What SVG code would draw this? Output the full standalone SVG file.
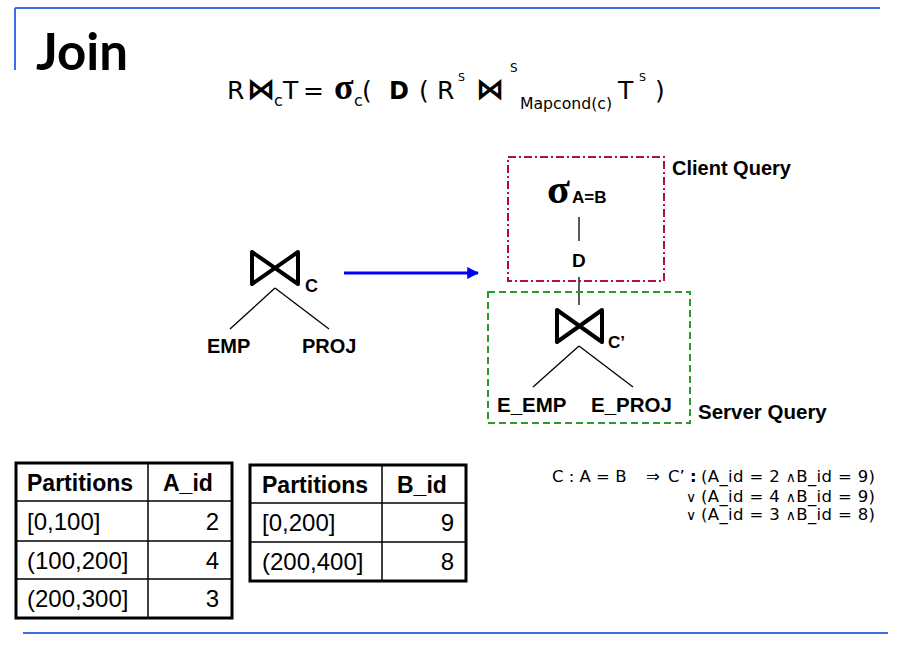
<svg xmlns="http://www.w3.org/2000/svg" width="900" height="648" viewBox="0 0 900 648">
<defs>
<style>
.rule{stroke:#3f6fe6;stroke-width:2;fill:none}
.f{font-family:"DejaVu Sans","Liberation Sans",sans-serif;fill:#000}
.a{font-family:"Liberation Sans",Arial,sans-serif;fill:#000}
.b{font-weight:bold}
.sig{font-family:"Liberation Serif","Times New Roman",serif;font-weight:bold;fill:#000}
.edge{stroke:#000;stroke-width:1.3;fill:none}
.bow{stroke:#000;stroke-width:4;fill:none;stroke-linejoin:round;stroke-linecap:round}
.tout{stroke:#000;stroke-width:3;fill:none}
.tin{stroke:#000;stroke-width:1.5}
</style>
<marker id="ah" viewBox="0 0 10 10" refX="9" refY="5" markerWidth="4" markerHeight="4" orient="auto" markerUnits="strokeWidth">
<path d="M0,0 L10,5 L0,10 Z" fill="#0000ff"/>
</marker>
</defs>
<rect width="900" height="648" fill="#fff"/>

<g id="frame">
<line class="rule" x1="15" y1="8" x2="880" y2="8"/>
<line class="rule" x1="15" y1="8" x2="15" y2="70"/>
<line class="rule" x1="23" y1="633" x2="888" y2="633"/>
</g>

<g id="title">
<text x="36" y="70" font-family="Lato,'Open Sans',sans-serif" font-size="51" font-weight="bold">Join</text>
</g>

<g id="formula" class="f" font-size="25">
<text x="227" y="99">R</text>
<text transform="translate(247,99) scale(1.05,1.1)" font-size="27" font-weight="bold">⋈</text>
<text x="274" y="106" font-size="16">c</text>
<text x="283" y="99">T</text>
<text x="303" y="99">=</text>
<text class="sig" x="334" y="99" font-size="36">σ</text>
<text x="354" y="106" font-size="16">c</text>
<text x="362" y="99">(</text>
<text x="389" y="99" font-weight="bold" font-size="24">D</text>
<text x="419" y="99">(</text>
<text x="437" y="99">R</text>
<text x="458" y="81" font-size="11">S</text>
<text transform="translate(476,99) scale(1.05,1.1)" font-size="27" font-weight="bold">⋈</text>
<text x="510" y="72" font-size="12">S</text>
<text x="520" y="109" font-size="16" textLength="92" lengthAdjust="spacingAndGlyphs">Mapcond(c)</text>
<text x="618" y="99">T</text>
<text x="639" y="81" font-size="11">S</text>
<text x="655" y="99">)</text>
</g>

<g id="connectors">
<line class="edge" x1="275" y1="288" x2="230" y2="329"/>
<line class="edge" x1="275" y1="288" x2="329" y2="329"/>
<line x1="344" y1="273" x2="478" y2="273" stroke="#0000ff" stroke-width="3" marker-end="url(#ah)"/>
<line class="edge" x1="579" y1="217" x2="579" y2="241"/>
<line class="edge" x1="579" y1="277" x2="579" y2="305"/>
<line class="edge" x1="579" y1="346" x2="533" y2="387"/>
<line class="edge" x1="579" y1="346" x2="633" y2="387"/>
</g>

<g id="join-c">
<path class="bow" d="M252,252 L298,284 L298,252 L252,284 Z"/>
<text class="a b" x="305" y="292" font-size="18">C</text>
</g>
<g id="emp"><text class="a b" x="207" y="353" font-size="20">EMP</text></g>
<g id="proj"><text class="a b" x="302" y="353" font-size="20">PROJ</text></g>

<g id="client-query">
<rect x="508" y="157" width="156" height="124" fill="none" stroke="#b01040" stroke-width="2" stroke-dasharray="8,3,2,3"/>
<text class="a b" x="672" y="175" font-size="20">Client Query</text>
</g>
<g id="sigma">
<text class="sig" x="547" y="203" font-size="42">σ</text>
<text class="a b" x="572" y="203" font-size="17">A=B</text>
</g>
<g id="d-node"><text class="a b" x="572" y="267" font-size="19">D</text></g>

<g id="server-query">
<rect x="488" y="292" width="202" height="131" fill="none" stroke="#2a9a2a" stroke-width="2" stroke-dasharray="7,4"/>
<text class="a b" x="698" y="419" font-size="20.5">Server Query</text>
</g>
<g id="join-c2">
<path class="bow" d="M557,310 L602,342 L602,310 L557,342 Z"/>
<text class="a b" x="608" y="348" font-size="17">C’</text>
</g>
<g id="e-emp"><text class="a b" x="497" y="412" font-size="20.5">E_EMP</text></g>
<g id="e-proj"><text class="a b" x="591" y="412" font-size="20.5">E_PROJ</text></g>

<g id="table-a" class="a" font-size="24">
<rect class="tout" x="16" y="463" width="216" height="155"/>
<line class="tin" x1="148" y1="463" x2="148" y2="618"/>
<line class="tin" x1="16" y1="501" x2="232" y2="501"/>
<line class="tin" x1="16" y1="541" x2="232" y2="541"/>
<line class="tin" x1="16" y1="579" x2="232" y2="579"/>
<text class="b" x="27" y="491" font-size="23">Partitions</text>
<text class="b" x="163" y="491" font-size="23">A_id</text>
<text x="27" y="530">[0,100]</text>
<text x="27" y="569">(100,200]</text>
<text x="27" y="607">(200,300]</text>
<text x="219" y="530" text-anchor="end">2</text>
<text x="219" y="569" text-anchor="end">4</text>
<text x="219" y="607" text-anchor="end">3</text>
</g>

<g id="table-b" class="a" font-size="24">
<rect class="tout" x="250" y="465" width="216" height="116"/>
<line class="tin" x1="382" y1="465" x2="382" y2="581"/>
<line class="tin" x1="250" y1="503" x2="466" y2="503"/>
<line class="tin" x1="250" y1="542" x2="466" y2="542"/>
<text class="b" x="262" y="493" font-size="23">Partitions</text>
<text class="b" x="397" y="493" font-size="23">B_id</text>
<text x="262" y="531">[0,200]</text>
<text x="262" y="570">(200,400]</text>
<text x="454" y="531" text-anchor="end">9</text>
<text x="454" y="570" text-anchor="end">8</text>
</g>

<g id="condition" class="f" font-size="16.5">
<text x="552" y="482">C : A = B</text>
<text x="646" y="482">⇒</text>
<text x="668" y="482">C’</text>
<text x="690" y="482" font-weight="bold">:</text>
<text x="701" y="482" textLength="174" lengthAdjust="spacing">(A_id = 2 <tspan font-size="14">∧</tspan>B_id = 9)</text>
<text x="686" y="502" font-size="14">∨</text>
<text x="701" y="502" textLength="174" lengthAdjust="spacing">(A_id = 4 <tspan font-size="14">∧</tspan>B_id = 9)</text>
<text x="686" y="520" font-size="14">∨</text>
<text x="701" y="520" textLength="174" lengthAdjust="spacing">(A_id = 3 <tspan font-size="14">∧</tspan>B_id = 8)</text>
</g>
</svg>
